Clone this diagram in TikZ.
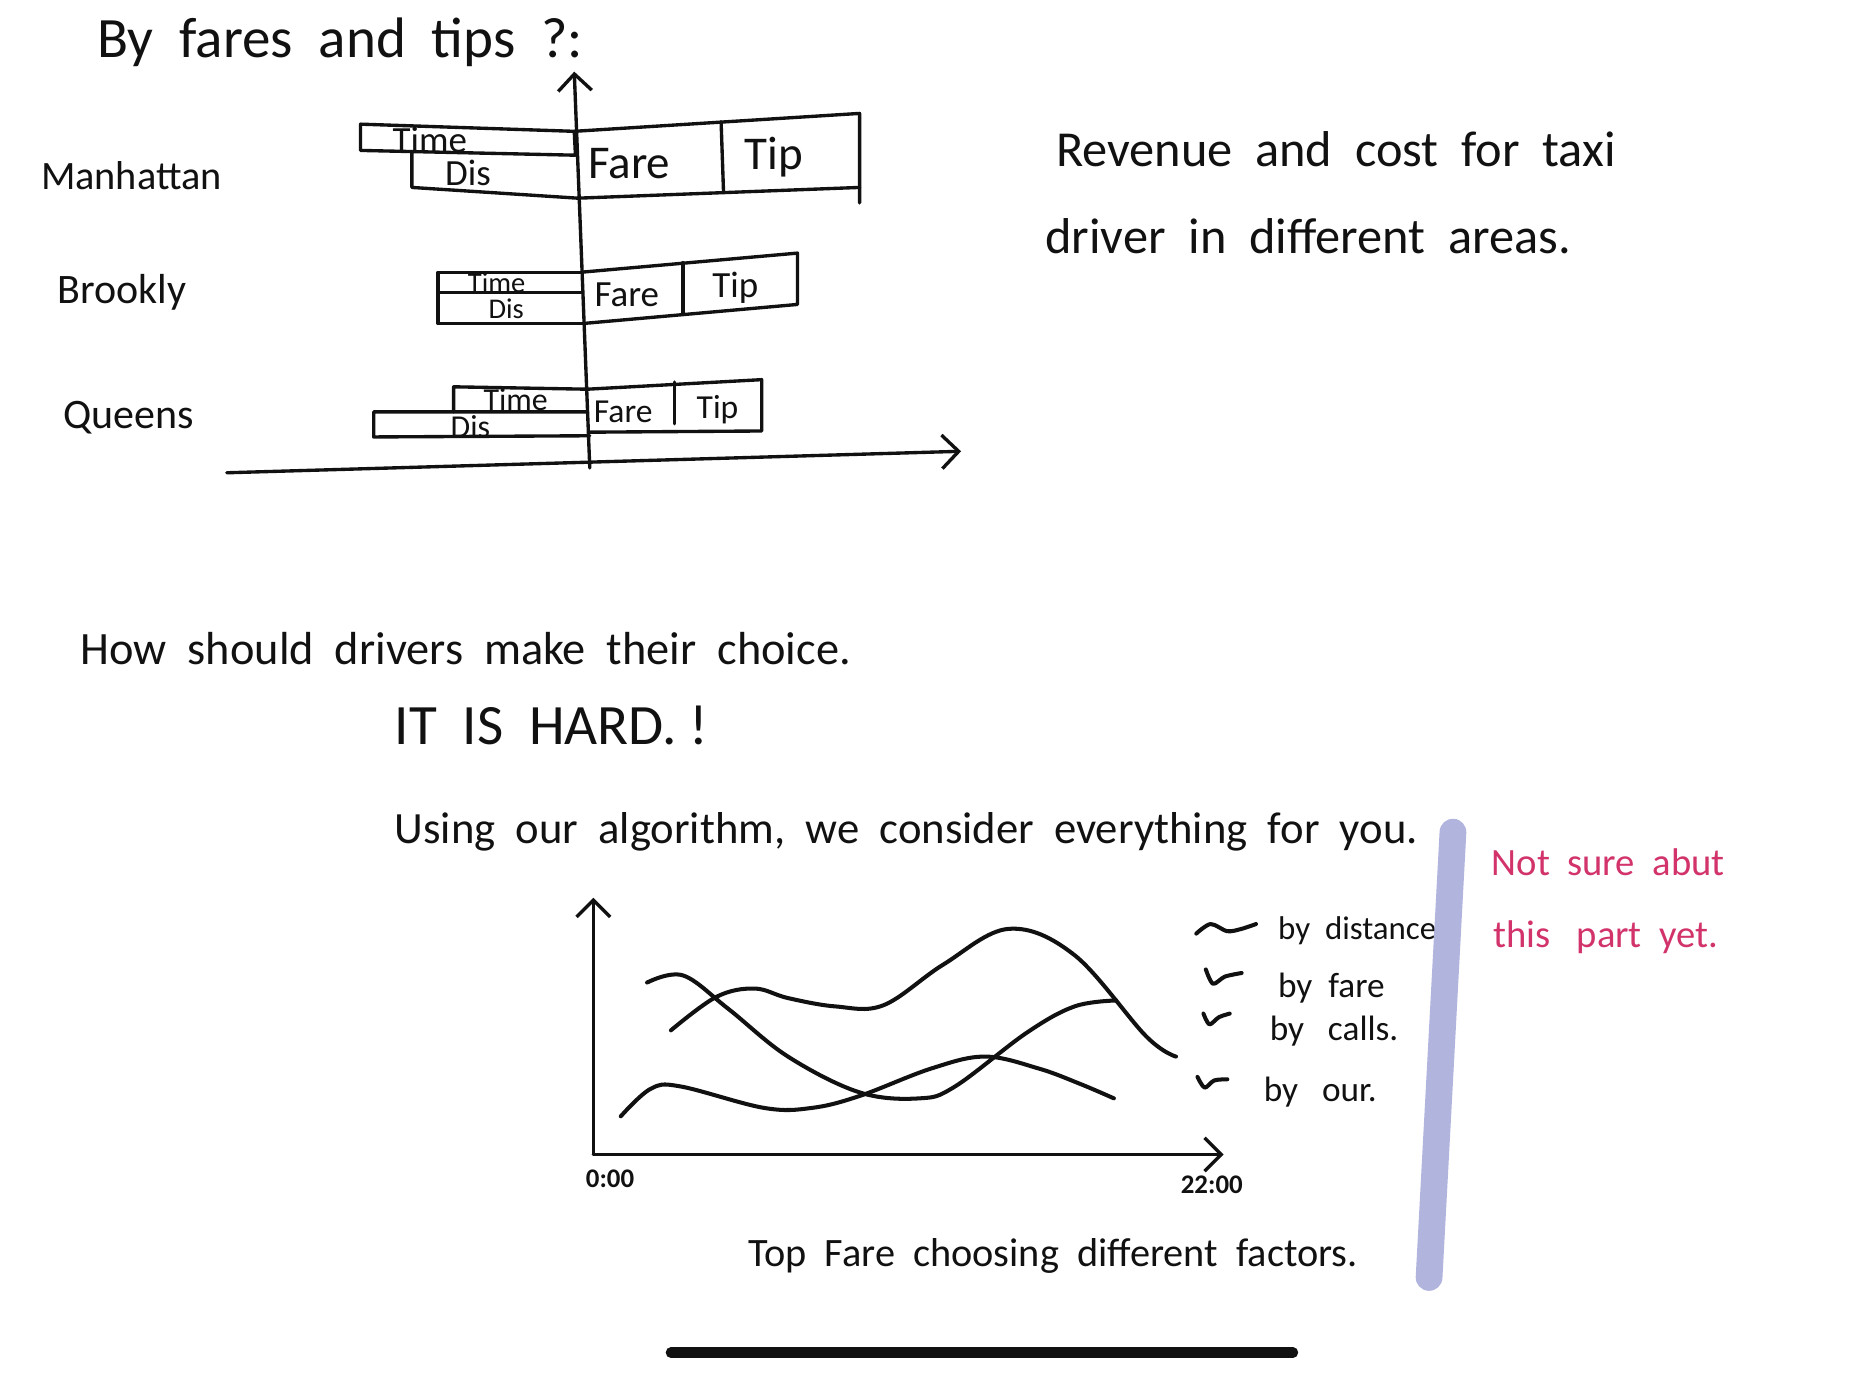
\documentclass[tikz,border=0pt]{standalone}
\usepackage{fontspec}
\setmainfont{Carlito}
\usepackage{xcolor}
\usepackage{tikz}
\usetikzlibrary{arrows.meta}
\definecolor{inkblack}{HTML}{111111}
\definecolor{notepink}{HTML}{D2336B}
\definecolor{barlav}{HTML}{B1B5DE}
\tikzset{
  ink/.style={draw=inkblack, line width=1pt, line join=round, line cap=round},
  arr/.style={ink, -{Straight Barb[length=5pt, width=10pt]}},
  hand/.style={font=\fontsize{17}{20}\selectfont, text=inkblack, inner sep=0pt},
  handm/.style={font=\fontsize{14}{17}\selectfont, text=inkblack, inner sep=0pt},
  area/.style={font=\fontsize{12.5}{15}\selectfont, text=inkblack, inner sep=0pt},
  boxlab/.style={font=\fontsize{11}{13}\selectfont, text=inkblack, inner sep=0pt},
  boxlabs/.style={font=\fontsize{9.5}{11}\selectfont, text=inkblack, inner sep=0pt},
  legtext/.style={font=\fontsize{10.5}{12}\selectfont, text=inkblack, inner sep=0pt, anchor=west},
  tick/.style={font=\fontsize{8}{10}\selectfont\bfseries, text=inkblack, inner sep=0pt},
  note/.style={font=\fontsize{11.5}{14}\selectfont, text=notepink, inner sep=0pt},
  curve/.style={ink, line width=1.2pt},
}

\begin{document}
\begin{tikzpicture}[x=0.0125cm, y=-0.0125cm]
  \useasboundingbox (0,0) rectangle (1568,1151);
  \fill[white] (0,0) rectangle (1568,1151);

  \node[hand] (title) at (285,35) {By \ fares \ and \ tips \ ?:};

  \coordinate (ybot) at (494,392);
  \coordinate (ytop) at (481,60);
  \coordinate (xlft) at (190,396);
  \coordinate (xrgt) at (805,378);
  \draw[arr] (ybot) -- (ytop);
  \draw[arr] (xlft) -- (xrgt);

  \node[area, font=\fontsize{12}{14}\selectfont] (man) at (110,147) {Manhattan};
  \node[area] (brk) at (102,245) {Brookly};
  \node[area] (qns) at (108,350) {Queens};

  \draw[ink] (302,104) -- (481,110) -- (482,130) -- (302,126) -- cycle;
  \draw[ink] (345,127) -- (345,157) -- (484,166);
  \draw[ink] (481,110) -- (720,95) -- (720,170);
  \draw[ink] (484,166) -- (720,157);
  \draw[ink] (604,102) -- (606,160);
  \node[boxlab] (mtime) at (360,117) {Time};
  \node[boxlab] (mdis) at (392,145) {Dis};
  \node[handm] (mfare) at (527,137) {Fare};
  \node[handm] (mtip) at (648,132) {Tip};

  \draw[ink] (487,228) -- (367,228) -- (367,271) -- (488,271);
  \draw[ink] (367,245) -- (487,245);
  \draw[ink] (487,228) -- (668,212) -- (668,255) -- (488,271);
  \draw[ink] (572,220) -- (572,263);
  \node[boxlabs, font=\fontsize{8.5}{10}\selectfont] (btime) at (416,237) {Time};
  \node[boxlabs, font=\fontsize{8.5}{10}\selectfont] (bdis) at (424,259) {Dis};
  \node[boxlab] (bfare) at (525,247) {Fare};
  \node[boxlab] (btip) at (616,241) {Tip};

  \draw[ink] (492,326) -- (380,324) -- (380,345);
  \draw[ink] (492,345) -- (313,345) -- (313,366) -- (494,365);
  \draw[ink] (492,326) -- (638,318) -- (638,361) -- (494,362);
  \draw[ink] (565,320) -- (565,355);
  \node[boxlabs] (qtime) at (432,335) {Time};
  \node[boxlabs] (qdis) at (394,357) {Dis};
  \node[boxlabs, font=\fontsize{10}{12}\selectfont] (qfare) at (522,345) {Fare};
  \node[boxlabs, font=\fontsize{10}{12}\selectfont] (qtip) at (601,343) {Tip};

  \node[hand, font=\fontsize{15}{18}\selectfont, anchor=west] (rev1) at (884,125) {Revenue \ and \ cost \ for \ taxi};
  \node[hand, font=\fontsize{15}{18}\selectfont, anchor=west] (rev2) at (875,198) {driver \ in \ different \ areas.};

  \node[hand, font=\fontsize{13.8}{16}\selectfont, anchor=west] (how) at (67,543) {How \ should \ drivers \ make \ their \ choice.};
  \node[hand, anchor=west] (hard) at (330,608) {IT \ IS \ HARD. !};
  \node[hand, font=\fontsize{13.3}{16}\selectfont, anchor=west] (using) at (330,697) {Using \ our \ algorithm, \ we \ consider \ everything \ for \ you.};

  \coordinate (org) at (497,967);
  \coordinate (ctop) at (497,752);
  \coordinate (cend) at (1025,967);
  \draw[arr] (org) -- (ctop);
  \draw[arr] (org) -- (cend);
  \node[tick] (t0) at (511,987) {0:00};
  \node[tick] (t22) at (1015,992) {22:00};

  \draw[curve] plot[smooth, tension=0.6] coordinates {(562,863) (600,835) (632,828) (660,836) (700,843) (740,842) (790,808) (845,778) (900,800) (960,868) (985,885)};
  \draw[curve] plot[smooth, tension=0.6] coordinates {(542,823) (572,817) (610,845) (660,885) (720,915) (770,920) (800,910) (860,865) (900,843) (935,838)};
  \draw[curve] plot[smooth, tension=0.6] coordinates {(520,935) (545,912) (570,910) (640,928) (680,928) (720,918) (780,895) (825,885) (870,895) (905,908) (933,920)};

  \draw[curve] plot[smooth] coordinates {(1002,782) (1014,774) (1028,780) (1040,778) (1052,774)};
  \draw[curve] plot[smooth] coordinates {(1010,812) (1016,824) (1026,818) (1040,815)};
  \draw[curve] plot[smooth] coordinates {(1008,849) (1013,858) (1021,852) (1030,849)};
  \draw[curve] plot[smooth] coordinates {(1003,902) (1009,911) (1017,905) (1028,904)};
  \node[legtext, font=\fontsize{9.8}{12}\selectfont] (lg1) at (1070,780) {by \ distance};
  \node[legtext] (lg2) at (1070,828) {by \ fare};
  \node[legtext] (lg3) at (1063,864) {by \ \ calls.};
  \node[legtext] (lg4) at (1058,915) {by \ \ our.};

  \node[hand, font=\fontsize{12}{14}\selectfont] (cap) at (882,1052) {Top \ Fare \ choosing \ different \ factors.};

  \draw[barlav, line width=0.28cm, line cap=round] (1217,697) -- (1197,1070);
  \node[note] (nt1) at (1347,722) {Not \ sure \ abut};
  \node[note] (nt2) at (1345,785) {this \ \ part \ yet.};

  \draw[inkblack, line width=0.11cm, line cap=round] (562,1133) -- (1083,1133);
\end{tikzpicture}
\end{document}
